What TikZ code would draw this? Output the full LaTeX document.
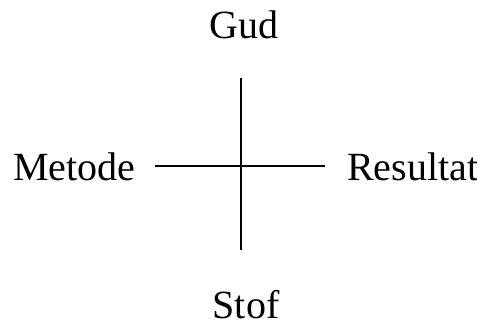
\documentclass[tikz,border=0pt]{standalone}
\usepackage{fontspec}
\setmainfont{Liberation Serif}
\usetikzlibrary{positioning}

\begin{document}
\begin{tikzpicture}[x=1pt,y=-1pt,
	word/.style={inner sep=0pt,font=\fontsize{40}{48}\selectfont},
	axis_line/.style={line width=1.9pt}]
	\useasboundingbox (0,0) rectangle (477,325);
	\node[word,anchor=base] (gud) at (244,38) {Gud};
	\node[word,anchor=base west] (metode) at (13,180) {Metode};
	\node[word,anchor=base west] (resultat) at (347,180) {Resultat};
	\node[word,anchor=base] (stof) at (246,318) {Stof};
	\coordinate (top_end) at (241,78);
	\coordinate (bottom_end) at (241,250);
	\coordinate (left_end) at (155,166);
	\coordinate (right_end) at (325,166);
	\draw[axis_line] (top_end) -- (bottom_end);
	\draw[axis_line] (left_end) -- (right_end);
      \end{tikzpicture}
\end{document}
